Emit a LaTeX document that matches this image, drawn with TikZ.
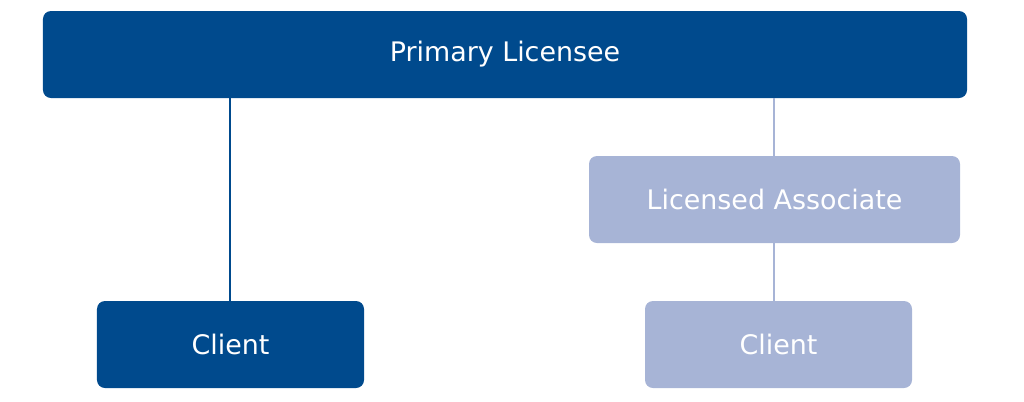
\documentclass[tikz,border=0pt]{standalone}
\usepackage{fontspec}
\setmainfont{DejaVu Sans}
\usepackage{tikz}
\usetikzlibrary{positioning}
\definecolor{darkblue}{HTML}{004A8D}
\definecolor{lightblue}{HTML}{A7B4D6}

\begin{document}
\begin{tikzpicture}[x=1bp,y=1bp,
	box/.style={rectangle, rounded corners=8bp, minimum height=87bp, text=white, font=\fontsize{27}{30}\selectfont, inner sep=0pt},
	dark/.style={box, fill=darkblue},
	light/.style={box, fill=lightblue}]
	\useasboundingbox (0,0) rectangle (1024,-401);
	\node (primary) at (505,-54.5) [dark, minimum width=924bp] {Primary Licensee};
	\node (associate) at (774.5,-199.5) [light, minimum width=371bp] {Licensed Associate};
	\node (client1) at (230.5,-344.5) [dark, minimum width=267bp] {Client};
	\node (client2) at (778.5,-344.5) [light, minimum width=267bp] {Client};

	\draw [darkblue, line width=1.5bp] (client1.north -| 230,0) -- (primary.south -| 230,0);
	\draw [lightblue, line width=1.5bp] (associate.north -| 774,0) -- (primary.south -| 774,0);
	\draw [lightblue, line width=1.5bp] (client2.north -| 774,0) -- (associate.south -| 774,0);
\end{tikzpicture}
\end{document}
